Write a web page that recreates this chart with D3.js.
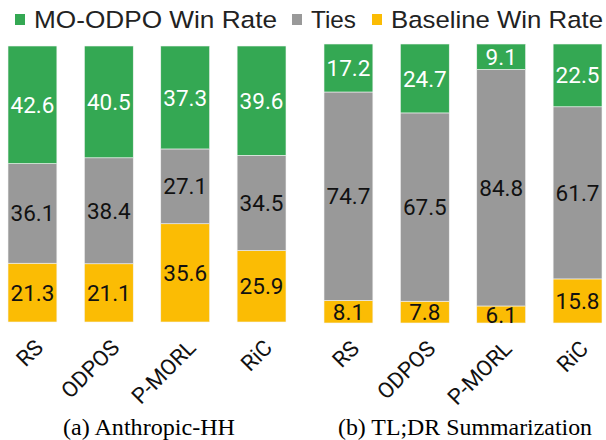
<!DOCTYPE html>
<html lang="en">
<head>
<meta charset="utf-8">
<script src="https://d3js.org/d3.v7.min.js"></script>
<style>
  body { margin: 0; background: #fff; }
  svg { display: block; }
</style>
</head>
<body>
<script>
// methods compared in each panel
var methods = ["RS", "ODPOS", "P-MORL", "RiC"];

// (a) Anthropic-HH
var hhWin = [42.6, 40.5, 37.3, 39.6];
var hhTies = [36.1, 38.4, 27.1, 34.5];
var hhBase = [21.3, 21.1, 35.6, 25.9];

// (b) TL;DR Summarization
var tldrWin = [17.2, 24.7, 9.1, 22.5];
var tldrTies = [74.7, 67.5, 84.8, 61.7];
var tldrBase = [8.1, 7.8, 6.1, 15.8];

var seriesNames = ["MO-ODPO Win Rate", "Ties", "Baseline Win Rate"];
var captions = ["(a) Anthropic-HH", "(b) TL;DR Summarization"];

var colors = ["#34a853", "#999999", "#fbbc04"];
var textColors = ["#ffffff", "#111111", "#111111"];

var width = 606, height = 440;

var svg = d3.select("body").append("svg")
    .attr("width", width)
    .attr("height", height);

// legend, items laid out one after the other
var legendX = [15, 292, 372];
var legendW = [243, 45, 212];   // text widths as drawn in the original
var legend = svg.append("g");
seriesNames.forEach(function (name, i) {
    legend.append("rect")
        .attr("x", legendX[i])
        .attr("y", 14)
        .attr("width", 10)
        .attr("height", 11)
        .attr("fill", colors[i]);
    legend.append("text")
        .attr("x", legendX[i] + 19)
        .attr("y", 28)
        .attr("textLength", legendW[i])
        .attr("lengthAdjust", "spacingAndGlyphs")
        .text(name)
        .style("font-family", "'Liberation Sans', Arial, sans-serif")
        .style("font-size", "24.5px")
        .style("fill", "#222");
});

var panels = [
    { win: hhWin, ties: hhTies, base: hhBase, caption: captions[0], x0: 8, x1: 286, yTop: 46, yBottom: 322, cx: 149, capW: 172 },
    { win: tldrWin, ties: tldrTies, base: tldrBase, caption: captions[1], x0: 324, x1: 602, yTop: 44, yBottom: 323, cx: 465, capW: 254 }
];

panels.forEach(function (p) {
    var rows = methods.map(function (m, i) {
        return { method: m, win: p.win[i], ties: p.ties[i], base: p.base[i] };
    });

    // stack bottom to top: baseline, ties, win
    var stack = d3.stack().keys(["base", "ties", "win"])(rows);

    var x = d3.scaleBand()
        .domain(methods)
        .range([p.x0, p.x1])
        .paddingInner(0.36)
        .paddingOuter(0);

    var y = d3.scaleLinear()
        .domain([0, 100])
        .range([p.yBottom, p.yTop]);

    var g = svg.append("g");

    var keyIndex = { base: 2, ties: 1, win: 0 };

    stack.forEach(function (layer) {
        var ci = keyIndex[layer.key];
        var lg = g.append("g");
        lg.selectAll("rect")
            .data(layer)
            .enter()
            .append("rect")
            .attr("x", function (d) { return x(d.data.method); })
            .attr("y", function (d) { return y(d[1]); })
            .attr("width", x.bandwidth())
            .attr("height", function (d) { return y(d[0]) - y(d[1]); })
            .attr("fill", colors[ci])
            .attr("stroke", "#f4f4f4")
            .attr("stroke-width", 0.6);

        lg.selectAll("text")
            .data(layer)
            .enter()
            .append("text")
            .attr("x", function (d) { return x(d.data.method) + x.bandwidth() / 2; })
            .attr("y", function (d) { return (y(d[0]) + y(d[1])) / 2; })
            .attr("dy", "0.36em")
            .attr("text-anchor", "middle")
            .text(function (d) { return d3.format(".1f")(d[1] - d[0]); })
            .style("font-family", "Roboto, sans-serif")
            .style("font-size", "22.5px")
            .style("fill", textColors[ci]);
    });

    // slanted category labels
    g.selectAll(".cat")
        .data(methods)
        .enter()
        .append("text")
        .attr("class", "cat")
        .attr("text-anchor", "end")
        .attr("transform", function (d) {
            var cx = x(d) + x.bandwidth() / 2 + 12;
            return "translate(" + cx + "," + (p.yBottom + 27) + ") rotate(-45)";
        })
        .text(function (d) { return d; })
        .style("font-family", "Roboto, sans-serif")
        .style("font-size", "22px")
        .style("fill", "#111");

    svg.append("text")
        .attr("x", p.cx)
        .attr("y", 435)
        .attr("text-anchor", "middle")
        .attr("textLength", p.capW)
        .attr("lengthAdjust", "spacingAndGlyphs")
        .text(p.caption)
        .style("font-family", "'Liberation Serif', 'Times New Roman', serif")
        .style("font-size", "23px")
        .style("fill", "#000");
});
</script>
</body>
</html>
